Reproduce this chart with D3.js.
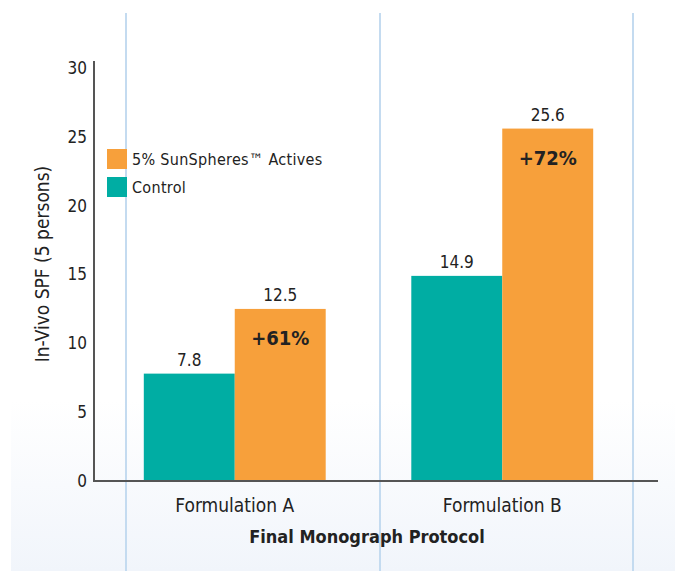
<!DOCTYPE html>
<html>
<head>
<meta charset="utf-8">
<script src="https://cdn.jsdelivr.net/npm/d3@7"></script>
<style>
  body { margin: 0; background: #fff; }
  text { font-family: "Liberation Sans Narrow", "DejaVu Sans Condensed", "Roboto", sans-serif; fill: #222; }
</style>
</head>
<body>
<div class="chart"></div>
<script>
const categories = ['Formulation A', 'Formulation B']
const series = ['Control', '5% SunSpheres\u2122 Actives']
const control = [7.8, 14.9]
const sunspheres = [12.5, 25.6]
const increases = ['+61%', '+72%']
const yTicks = [0, 5, 10, 15, 20, 25, 30]
const guideLines = [126, 380, 633]

const colors = {'Control': '#00ada3', '5% SunSpheres\u2122 Actives': '#f7a03b'}

let svg = d3.select('.chart')
  .append('svg')
  .attr('width', 675)
  .attr('height', 571)

// faint gradient at the bottom
let defs = svg.append('defs')
let grad = defs.append('linearGradient')
  .attr('id', 'bg')
  .attr('x1', 0).attr('y1', 0).attr('x2', 0).attr('y2', 1)
grad.append('stop').attr('offset', '0%').attr('stop-color', '#ffffff')
grad.append('stop').attr('offset', '100%').attr('stop-color', '#f1f5fb')

svg.append('rect')
  .attr('x', 11).attr('y', 400)
  .attr('width', 664).attr('height', 171)
  .attr('fill', 'url(#bg)')

// light blue guide lines
svg.append('g').selectAll('line')
  .data(guideLines)
  .enter()
  .append('line')
  .attr('x1', d => d).attr('x2', d => d)
  .attr('y1', 13).attr('y2', 571)
  .attr('stroke', '#c4dbf0')
  .attr('stroke-width', 2)

let y = d3.scaleLinear()
  .domain([0, 30])
  .range([481, 68])

let x = d3.scaleBand()
  .domain(categories)
  .range([101, 636])
  .paddingInner(0.32)
  .paddingOuter(0.16)

let xs = d3.scaleBand()
  .domain(series)
  .range([0, x.bandwidth()])

let rows = categories.map((c, i) => ({
  cat: c,
  values: [
    {key: series[0], value: control[i]},
    {key: series[1], value: sunspheres[i], inc: increases[i]}
  ]
}))

let groups = svg.append('g').selectAll('g')
  .data(rows)
  .enter()
  .append('g')
  .attr('transform', d => 'translate(' + x(d.cat) + ',0)')

groups.selectAll('rect')
  .data(d => d.values)
  .enter()
  .append('rect')
  .attr('x', d => xs(d.key))
  .attr('width', xs.bandwidth())
  .attr('y', d => y(d.value))
  .attr('height', d => y(0) - y(d.value))
  .attr('fill', d => colors[d.key])

groups.selectAll('text.val')
  .data(d => d.values)
  .enter()
  .append('text')
  .attr('class', 'val')
  .attr('x', d => xs(d.key) + xs.bandwidth() / 2)
  .attr('y', d => y(d.value) - 8)
  .attr('text-anchor', 'middle')
  .style('font-size', '17px')
  .text(d => d.value)

groups.selectAll('text.inc')
  .data(d => d.values.filter(v => v.inc))
  .enter()
  .append('text')
  .attr('class', 'inc')
  .attr('x', d => xs(d.key) + xs.bandwidth() / 2)
  .attr('y', d => y(d.value) + 36)
  .attr('text-anchor', 'middle')
  .style('font-size', '20px')
  .style('font-weight', 'bold')
  .text(d => d.inc)

// y axis
let yAxis = svg.append('g')
  .attr('transform', 'translate(94,0)')
  .call(d3.axisLeft(y).tickValues(yTicks).tickSize(0).tickPadding(7))
yAxis.select('.domain').remove()
yAxis.selectAll('text')
  .style('font-size', '17px')
  .attr('fill', '#222')

svg.append('line')
  .attr('x1', 94).attr('x2', 94)
  .attr('y1', 61).attr('y2', 482)
  .attr('stroke', '#555').attr('stroke-width', 2)

// x axis
let xAxis = svg.append('g')
  .attr('transform', 'translate(0,481)')
  .call(d3.axisBottom(x).tickSize(0).tickPadding(18))
xAxis.select('.domain').remove()
xAxis.selectAll('text')
  .style('font-size', '19px')
  .attr('fill', '#222')

svg.append('line')
  .attr('x1', 93).attr('x2', 658)
  .attr('y1', 481).attr('y2', 481)
  .attr('stroke', '#555').attr('stroke-width', 2)

svg.append('text')
  .attr('x', 367).attr('y', 543)
  .attr('text-anchor', 'middle')
  .style('font-size', '18px')
  .style('font-weight', 'bold')
  .text('Final Monograph Protocol')

svg.append('text')
  .attr('transform', 'translate(49,264) rotate(-90)')
  .attr('text-anchor', 'middle')
  .style('font-size', '19px')
  .text('In-Vivo SPF (5 persons)')

// legend
let legend = svg.append('g').selectAll('g')
  .data(series.slice().reverse())
  .enter()
  .append('g')
  .attr('transform', (d, i) => 'translate(107,' + (149 + i * 28) + ')')

legend.append('rect')
  .attr('width', 20).attr('height', 20)
  .attr('fill', d => colors[d])

legend.append('text')
  .attr('x', 25).attr('y', 16)
  .style('font-size', '16px')
  .style('letter-spacing', '0.3px')
  .attr('fill', '#222')
  .text(d => d)
</script>
</body>
</html>
